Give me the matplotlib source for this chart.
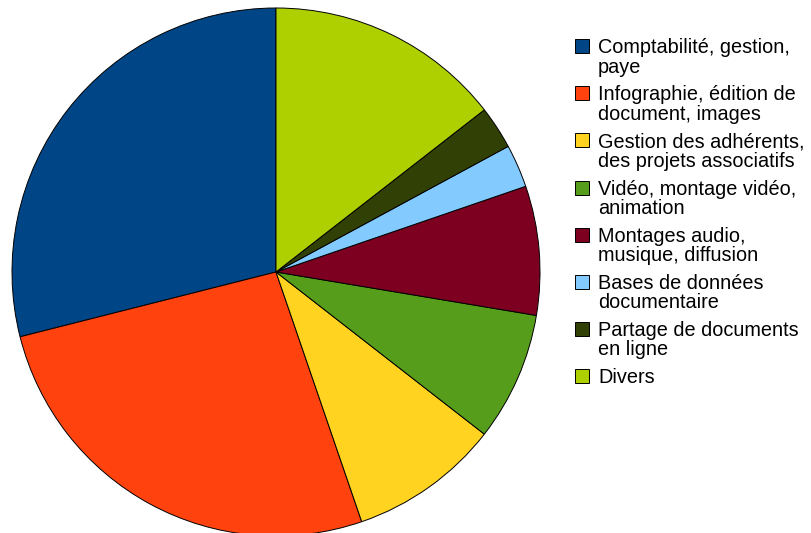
import matplotlib
matplotlib.use("Agg")
import matplotlib.pyplot as plt
from matplotlib.patches import Rectangle

categories = [
    "Comptabilité, gestion,\npaye",
    "Infographie, édition de\ndocument, images",
    "Gestion des adhérents,\ndes projets associatifs",
    "Vidéo, montage vidéo,\nanimation",
    "Montages audio,\nmusique, diffusion",
    "Bases de données\ndocumentaire",
    "Partage de documents\nen ligne",
    "Divers",
]
values = [22, 20, 7, 6, 6, 2, 2, 11]
colors = ["#004586", "#ff420e", "#ffd320", "#579d1c", "#7e0021",
          "#83caff", "#314004", "#aecf00"]

W, H = 811, 533
fig = plt.figure(figsize=(W / 100, H / 100), dpi=100)
fig.patch.set_facecolor("white")

cx, cy, r = 276, 272, 264
ax = fig.add_axes([(cx - r) / W, (H - cy - r) / H, 2 * r / W, 2 * r / H])
ax.pie(values, colors=colors, startangle=90, counterclock=True, radius=1,
       wedgeprops=dict(edgecolor="black", linewidth=0.7))
ax.set_xlim(-1, 1)
ax.set_ylim(-1, 1)
ax.set_aspect("equal")
ax.axis("off")

font = dict(family=["Liberation Sans", "DejaVu Sans"], size=14.3)
base0 = 53.3
step = 47.1
line_h = 19.4
for i, (lab, col) in enumerate(zip(categories, colors)):
    b = base0 + i * step
    fig.patches.append(Rectangle((575 / W, 1 - b / H), 14 / W, 14 / H,
                                 transform=fig.transFigure, facecolor=col,
                                 edgecolor="black", linewidth=0.7))
    for j, line in enumerate(lab.split("\n")):
        fig.text(598 / W, 1 - (b + j * line_h) / H, line, ha="left",
                 va="baseline", color="black", **font)

fig.savefig("out.png", dpi=100)
